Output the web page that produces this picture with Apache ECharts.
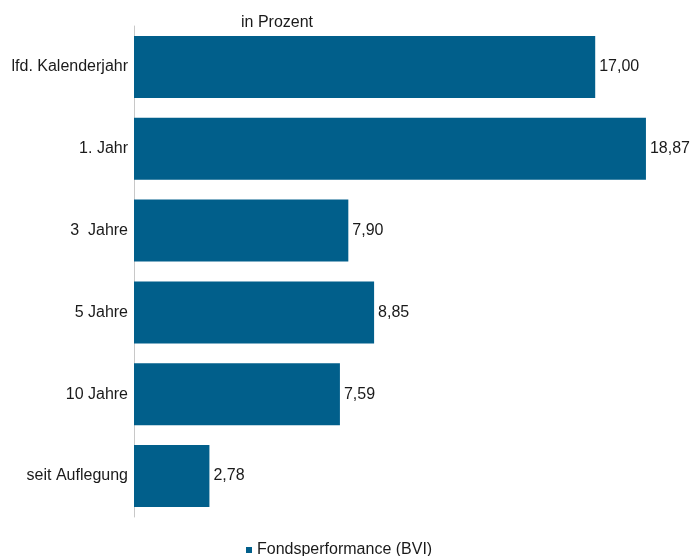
<!DOCTYPE html>
<html><head><meta charset="utf-8">
<script src="https://cdn.jsdelivr.net/npm/echarts@6/dist/echarts.min.js"></script>
<style>html,body{margin:0;padding:0;background:#fff}#c{width:700px;height:556px}</style>
</head><body><div id="c"></div>
<script>
const categories = ['lfd. Kalenderjahr', '1. Jahr', '3  Jahre', '5 Jahre', '10 Jahre', 'seit Auflegung'];
const values = [17.00, 18.87, 7.90, 8.85, 7.59, 2.78];
const seriesName = 'Fondsperformance (BVI)';
const unitLabel = 'in Prozent';

const chart = echarts.init(document.getElementById('c'));
const font = 'Liberation Sans, Arial, sans-serif';
chart.setOption({
  animation: false,
  textStyle: { fontFamily: font },
  title: { text: unitLabel, left: 236, top: 10, textStyle: { fontSize: 16, fontWeight: 'normal', color: '#1a1a1a', fontFamily: font } },
  legend: {
    data: [seriesName], left: 241, top: 537, icon: 'rect', itemWidth: 6, itemHeight: 6, itemGap: 6,
    textStyle: { fontSize: 16, color: '#1a1a1a', fontFamily: font }
  },
  grid: { left: 134, top: 26, width: 542.6, height: 491 },
  xAxis: { type: 'value', min: 0, max: 20, show: false },
  yAxis: {
    type: 'category', data: categories, inverse: true,
    axisLine: { show: true, lineStyle: { color: '#c8c8c8', width: 1 } },
    axisTick: { show: false },
    axisLabel: { fontSize: 16, color: '#1a1a1a', margin: 6, fontFamily: font }
  },
  series: [{
    name: seriesName, type: 'bar', data: values, barWidth: 62,
    itemStyle: { color: '#015f8b' },
    label: {
      show: true, position: 'right', distance: 1, fontSize: 16, color: '#1a1a1a', fontFamily: font,
      backgroundColor: '#fff', padding: [1, 1, 1, 3],
      formatter: p => p.value.toFixed(2).replace('.', ',')
    }
  }]
});
</script></body></html>
